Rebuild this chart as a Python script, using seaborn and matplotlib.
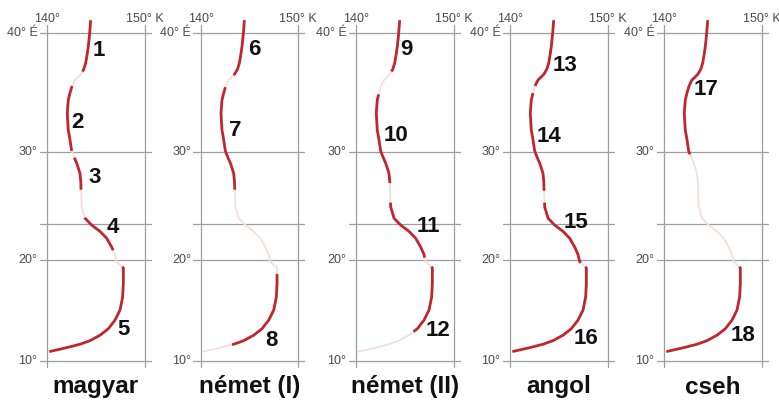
import numpy as np
import matplotlib
matplotlib.use("Agg")
import matplotlib.pyplot as plt
import seaborn as sns

# Route traced as (latitude °N, longitude °E), north to south
track_lat = [41.0, 40.0, 38.96, 38.3, 37.6, 37.1, 36.7, 36.45, 36.2, 35.9, 35.6, 35.0,
             34.5, 33.4, 31.96, 31.08, 30.1, 29.5, 29.0, 28.1, 27.3, 26.5, 25.0, 23.95,
             23.3, 22.7, 22.05, 21.2, 20.5, 19.8, 19.2, 17.7, 16.36, 15.06, 14.05,
             13.2, 12.55, 12.0, 11.64, 11.3, 10.9]
track_lon = [144.48, 144.38, 144.24, 144.12, 143.97, 143.78, 143.49, 143.2, 142.87,
             142.68, 142.53, 142.32, 142.18, 142.08, 142.18, 142.36, 142.53, 142.8,
             143.05, 143.38, 143.47, 143.49, 143.56, 143.9, 144.58, 145.44, 146.12,
             146.64, 146.97, 147.15, 147.83, 147.83, 147.76, 147.49, 146.97, 146.29,
             145.44, 144.41, 143.38, 142.02, 140.24]

panel_names = ["magyar", "német (I)", "német (II)", "angol", "cseh"]

# Highlighted sections: (number, northern latitude, southern latitude)
magyar_parts = [(1, 41.0, 36.9), (2, 35.7, 30.1), (3, 29.5, 26.6), (4, 24.0, 20.9), (5, 19.3, 10.9)]
nemet1_parts = [(6, 41.0, 36.6), (7, 35.6, 26.6), (8, 18.6, 11.6)]
nemet2_parts = [(9, 41.0, 36.9), (10, 35.0, 27.2), (11, 25.4, 20.2), (12, 19.3, 12.9)]
angol_parts = [(13, 41.0, 35.7), (14, 35.1, 26.5), (15, 25.4, 19.7), (16, 19.3, 10.9)]
cseh_parts = [(17, 41.0, 29.8), (18, 19.3, 10.9)]
panel_parts = [magyar_parts, nemet1_parts, nemet2_parts, angol_parts, cseh_parts]

grid_lats = [40, 30, 23.44, 20, 10]
lat_ticks = [40, 30, 20, 10]
lat_tick_labels = ["40° É", "30°", "20°", "10°"]
lon_ticks = [140, 150]
lon_tick_labels = ["140°", "150° K"]

# Number label placement (lon, lat)
label_xy = {
    1: (145.3, 38.6), 2: (143.1, 32.6), 3: (144.9, 27.7), 4: (146.7, 23.1), 5: (147.8, 13.1),
    6: (145.5, 38.7), 7: (143.5, 31.9), 8: (147.3, 12.0),
    9: (145.2, 38.7), 10: (144.1, 31.5), 11: (147.4, 23.2), 12: (148.4, 13.0),
    13: (145.6, 37.4), 14: (144.0, 31.4), 15: (146.8, 23.5), 16: (147.8, 12.2),
    17: (144.3, 35.4), 18: (148.1, 12.5),
}


def merc(lat):
    lat = np.radians(np.asarray(lat, dtype=float))
    return np.log(np.tan(np.pi / 4 + lat / 2))


def section(lat_n, lat_s):
    lat = np.array(track_lat)
    lon = np.array(track_lon)
    inside = (lat < lat_n) & (lat > lat_s)
    lon_n = np.interp(lat_n, lat[::-1], lon[::-1])
    lon_s = np.interp(lat_s, lat[::-1], lon[::-1])
    la = np.concatenate([[lat_n], lat[inside], [lat_s]])
    lo = np.concatenate([[lon_n], lon[inside], [lon_s]])
    return lo, merc(la)


sns.set_theme(style="white")
plt.rcParams["font.family"] = ["Liberation Sans", "DejaVu Sans"]

W, H = 779, 403
fig = plt.figure(figsize=(W / 100, H / 100), dpi=100)

box_left = [47, 200.7, 356, 510, 664]
box_w = 97.5
y40_px, y10_px = 33.0, 360.5
k = (y10_px - y40_px) / (merc(40) - merc(10))   # px per Mercator unit
px_per_deg = box_w / 10.0
pad_x = 7.3
top_px, bot_px = 12.0, 372.0

DARK = "#c0262d"
FADE = "#f3dede"
GRID = "#9d9d9d"
TICK = "#4a4a4a"
tick_fonts = ["Liberation Sans Narrow", "Liberation Sans", "DejaVu Sans"]

for i, (name, parts) in enumerate(zip(panel_names, panel_parts)):
    left_px = box_left[i] - pad_x
    ax = fig.add_axes([left_px / W, 1 - bot_px / H, (box_w + 2 * pad_x) / W,
                       (bot_px - top_px) / H])
    x0 = 140 - pad_x / px_per_deg
    x1 = 150 + pad_x / px_per_deg
    y_top = merc(40) + (y40_px - top_px) / k
    y_bot = merc(10) - (bot_px - y10_px) / k
    ax.set_xlim(x0, x1)
    ax.set_ylim(y_bot, y_top)
    ax.axis("off")

    # grid
    for gl in grid_lats:
        ax.plot([x0, x1], [merc(gl)] * 2, color=GRID, lw=0.9, zorder=1)
    v_top = merc(40) + (y40_px - 25) / k
    v_bot = merc(10) - (367 - y10_px) / k
    for gx in lon_ticks:
        ax.plot([gx, gx], [v_bot, v_top], color=GRID, lw=0.9, zorder=1)

    # whole route, faint
    sns.lineplot(x=track_lon, y=merc(track_lat), sort=False, estimator=None,
                 color=FADE, lw=1.3, ax=ax, zorder=2)
    # highlighted sections
    for num, lat_n, lat_s in parts:
        lo, my = section(lat_n, lat_s)
        sns.lineplot(x=lo, y=my, sort=False, estimator=None, color=DARK, lw=2.0,
                     ax=ax, zorder=3, solid_capstyle="butt")
        lx, ly = label_xy[num]
        ax.text(lx, merc(ly), str(num), ha="center", va="center", fontsize=16,
                fontweight="bold", color="#111111", zorder=4)

    # latitude labels
    for lt, lab in zip(lat_ticks, lat_tick_labels):
        ax.text(140 - 9.5 / px_per_deg, merc(lt), lab, ha="right", va="center",
                fontsize=9, color=TICK, family=tick_fonts, clip_on=False)
    # longitude labels
    y_lab = merc(40) + (y40_px - 19) / k
    for lx, lab in zip(lon_ticks, lon_tick_labels):
        ax.text(lx, y_lab, lab, ha="center", va="center", fontsize=9,
                color=TICK, family=tick_fonts, clip_on=False)

    fig.text((box_left[i] + box_w / 2) / W, 1 - 387 / H, name, ha="center",
             va="center", fontsize=17.5, fontweight="bold", color="#111111")

fig.savefig("out.png", dpi=100, facecolor="white")
